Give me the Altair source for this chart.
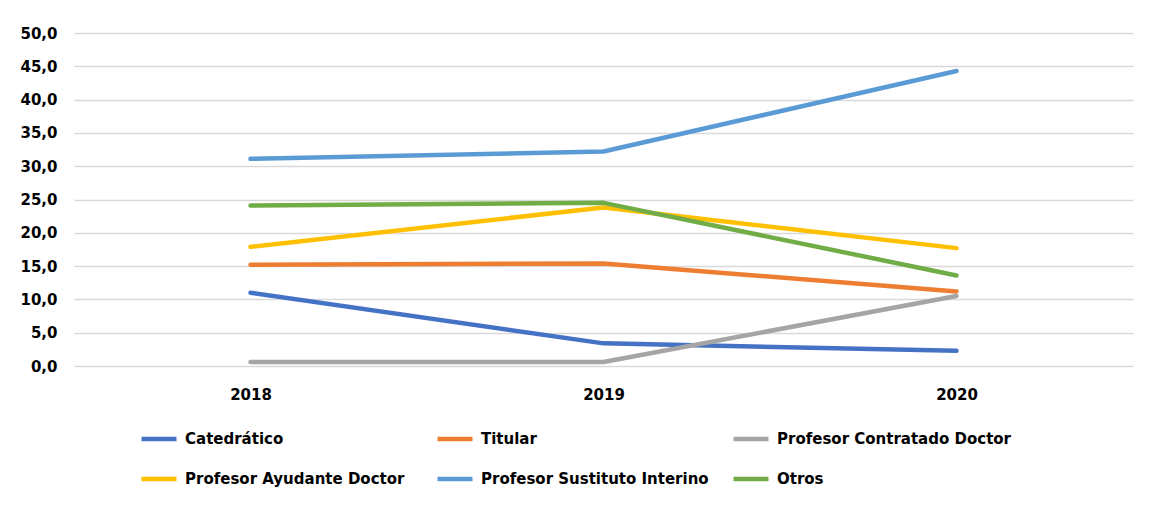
import altair as alt
import pandas as pd

years = ["2018", "2019", "2020"]
series = ["Catedrático", "Titular", "Profesor Contratado Doctor",
          "Profesor Ayudante Doctor", "Profesor Sustituto Interino", "Otros"]
colors = ["#4472C4", "#ED7D31", "#A5A5A5", "#FFC000", "#5B9BD5", "#70AD47"]

catedratico = [11.0, 3.4, 2.3]
titular = [15.2, 15.4, 11.2]
contratado = [0.6, 0.6, 10.5]
ayudante = [17.9, 23.8, 17.7]
sustituto = [31.1, 32.2, 44.3]
otros = [24.1, 24.5, 13.6]

values = [catedratico, titular, contratado, ayudante, sustituto, otros]
rows = []
for s, vals in zip(series, values):
    for y, v in zip(years, vals):
        rows.append({"Año": y, "Serie": s, "Valor": v})
df = pd.DataFrame(rows)

FONT = "DejaVu Sans"

chart = alt.Chart(df).mark_line(strokeWidth=4.5, strokeCap="round", strokeJoin="round").encode(
    x=alt.X("Año:O", scale=alt.Scale(type="point", padding=0.5),
            axis=alt.Axis(title=None, labelAngle=0, domain=False, ticks=False,
                          labelFont=FONT, labelFontWeight="bold", labelFontSize=15,
                          labelColor="#000000", labelPadding=21, grid=False)),
    y=alt.Y("Valor:Q", scale=alt.Scale(domain=[0, 50], nice=False),
            axis=alt.Axis(title=None, values=list(range(0, 55, 5)), domain=False, ticks=False,
                          labelExpr="replace(format(datum.value, '.1f'), '.', ',')",
                          labelFont=FONT, labelFontWeight="bold", labelFontSize=15,
                          labelColor="#000000", labelPadding=17,
                          gridColor="#d9d9d9", gridWidth=1.5)),
    color=alt.Color("Serie:N", scale=alt.Scale(domain=series, range=colors),
                    sort=series,
                    legend=alt.Legend(title=None, orient="none", legendX=65, legendY=386,
                                      columns=3, gridAlign="all", direction="horizontal",
                                      symbolType="stroke", symbolSize=1225, symbolStrokeWidth=4.5,
                                      labelFont=FONT, labelFontWeight="bold", labelFontSize=15,
                                      labelColor="#000000", labelOffset=6,
                                      columnPadding=8, rowPadding=11, labelLimit=400)),
    order=alt.Order("Año:O"),
).properties(
    width=1059, height=333,
    autosize=alt.AutoSizeParams(type="none"),
    padding={"left": 66, "top": 25, "right": 15, "bottom": 130},
).configure_view(stroke=None)

chart.save("out.html", embed_options={"renderer": "svg", "actions": False})
